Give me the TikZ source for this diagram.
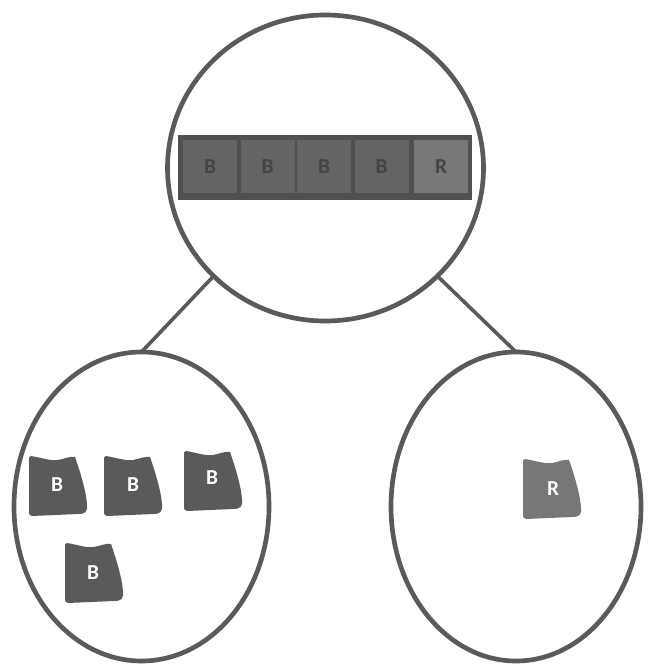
\documentclass[tikz,border=0pt]{standalone}
\usepackage{fontspec}
\setmainfont{Carlito}
\usetikzlibrary{shapes.geometric}
\definecolor{ink}{HTML}{5A5A5A}
\definecolor{barc}{HTML}{505050}
\definecolor{cellb}{HTML}{646464}
\definecolor{cellr}{HTML}{777777}
\definecolor{cellt}{HTML}{444444}
\definecolor{blobr}{HTML}{777777}
\tikzset{
  ring/.style={ellipse, draw=ink, line width=3.5pt, inner sep=0pt, outer sep=0pt},
  link/.style={draw=ink, line width=2.7pt},
  cellbox/.style={rectangle, minimum width=40.5pt, minimum height=39.75pt, inner sep=0pt, text=cellt, font=\bfseries\fontsize{16}{16}\selectfont},
  blobtext/.style={text=white, font=\bfseries\fontsize{16}{16}\selectfont, inner sep=0pt},
  blobshape/.pic={
    \fill[#1] (-27,-30) .. controls (-15,-28) and (-8,-25) .. (0,-26)
      .. controls (6,-27) and (12,-30) .. (17,-29)
      .. controls (22,-15) and (28,5) .. (29,18)
      .. controls (30,26) and (27,28) .. (20,28)
      -- (-26,30) .. controls (-29,30) and (-29,28) .. (-29,25)
      -- (-29,-26) .. controls (-29,-29) .. cycle;
  }
}
\begin{document}
\begin{tikzpicture}[x=0.75pt, y=-0.75pt]
\useasboundingbox (0,0) rectangle (649,666);
\fill[white] (0,0) rectangle (649,666);
% top circle
\node[ring, minimum width=237pt, minimum height=229.5pt] (top) at (325.5,168) {};
\node[rectangle, fill=barc, minimum width=220.5pt, minimum height=48.75pt, inner sep=0pt] (bar) at (325,167.5) {};
\node[cellbox, fill=cellb] (c1) at (210,166.5) {B};
\node[cellbox, fill=cellb] (c2) at (267.5,166.5) {B};
\node[cellbox, fill=cellb] (c3) at (324,166.5) {B};
\node[cellbox, fill=cellb] (c4) at (381.5,166.5) {B};
\node[cellbox, fill=cellr] (c5) at (441,166.5) {R};
% lower ellipses
\node[ring, minimum width=191.25pt, minimum height=231.75pt] (L) at (141.5,506.5) {};
\node[ring, minimum width=187.5pt, minimum height=231.75pt] (R) at (516,506.5) {};
% connectors
\draw[link] (top.224) -- (L.north);
\draw[link] (top.316) -- (R.north);
% blobs in left ellipse
\pic at (58,486) {blobshape=ink};
\node[blobtext] (b1) at (57,485) {B};
\pic at (133,486) {blobshape=ink};
\node[blobtext] (b2) at (133,485) {B};
\pic at (213,481) {blobshape=ink};
\node[blobtext] (b3) at (212,478) {B};
\pic at (94,573) {blobshape=ink};
\node[blobtext] (b4) at (93,573) {B};
% blob in right ellipse
\pic at (552,489) {blobshape=blobr};
\node[blobtext] (r1) at (553,489) {R};
\end{tikzpicture}
\end{document}
